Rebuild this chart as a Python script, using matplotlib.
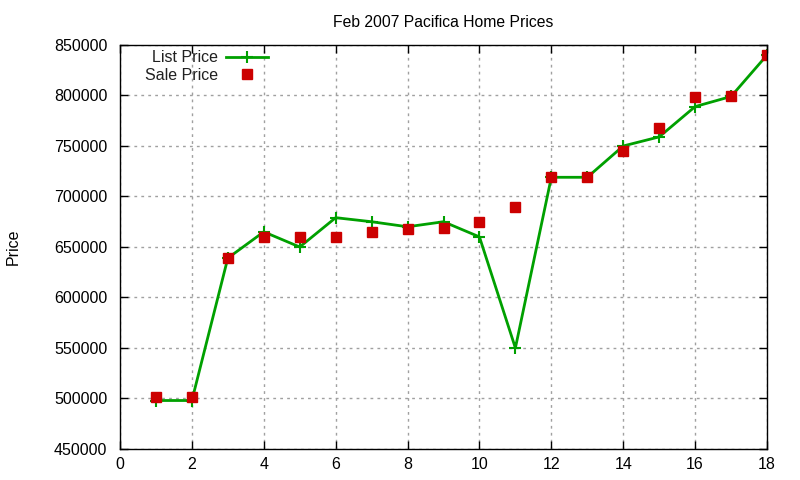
import numpy as np
import matplotlib.pyplot as plt

plt.rcParams['font.family'] = ['Liberation Sans', 'DejaVu Sans']

# data
house = np.arange(1, 19)
list_price = [498000, 498000, 639000, 665000, 650000, 679000, 675000, 670000, 675000,
              660000, 550000, 719000, 719000, 750000, 759000, 789000, 799000, 840000]
sale_price = [501000, 501000, 639000, 660000, 660000, 660000, 665000, 668000, 669000,
              675000, 690000, 719000, 719000, 745000, 768000, 798000, 799000, 840000]

fig = plt.figure(figsize=(8, 4.8), dpi=100)
ax = fig.add_axes([0.15, 0.0646, 0.80875, 0.8417])

ax.plot(house, list_price, color='#00a000', lw=2, marker='+', ms=8, mew=1.5,
        label='List Price')
ax.plot(house, sale_price, ls='none', marker='s', ms=6.5, color='#cc0000',
        label='Sale Price')

ax.set_xlim(0, 18)
ax.set_ylim(450000, 850000)
ax.set_xticks(np.arange(0, 19, 2))
ax.set_yticks(np.arange(450000, 850001, 50000))
ax.tick_params(direction='in', top=True, right=True, labelsize=11.5, length=6, width=1)
ax.tick_params(axis='x', pad=6)
ax.tick_params(axis='y', pad=9)
ax.grid(True, ls=(0, (2, 3)), color='#a0a0a0', lw=1)
for s in ax.spines.values():
    s.set_linewidth(1)

ax.set_title('Feb 2007 Pacifica Home Prices', fontsize=11.3, pad=13)
ax.set_ylabel('Price', fontsize=11.5, labelpad=24)

leg = ax.legend(loc='upper left', markerfirst=False, frameon=False, fontsize=11.5,
                handlelength=2.6, handletextpad=0.5, borderaxespad=0, labelspacing=0.15,
                bbox_to_anchor=(0.029, 1.003))
for t in leg.get_texts():
    t.set_color('#202020')

fig.savefig('out.png', dpi=100)
